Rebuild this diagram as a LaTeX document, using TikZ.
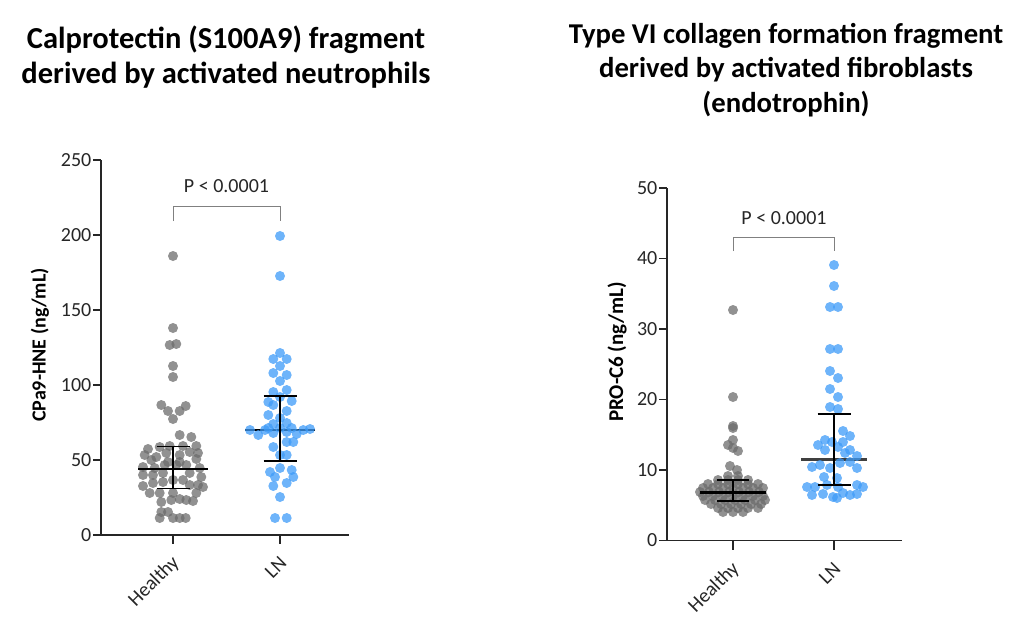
\documentclass[tikz,border=0pt]{standalone}
\usepackage{fontspec}
\setmainfont{Carlito}
\usetikzlibrary{positioning}
\definecolor{healthygray}{RGB}{108,108,108}
\definecolor{lnblue}{RGB}{62,155,248}
\definecolor{axisgray}{RGB}{38,38,38}
\definecolor{bracketgray}{RGB}{128,128,128}

\tikzset{
  hdot/.style={fill=healthygray, fill opacity=0.75},
  lndot/.style={fill=lnblue, fill opacity=0.75},
  axisline/.style={draw=axisgray, line width=1.4pt},
  errbar/.style={draw=black, line width=1.8pt},
  medbar/.style={draw=black, line width=2.6pt},
  bracket/.style={draw=bracketgray, line width=0.9pt},
  ticklabel/.style={font=\fontsize{20}{24}\selectfont, text=axisgray, inner sep=1pt},
  titletext/.style={font=\bfseries\fontsize{30.5}{35}\selectfont, align=center},
  axistitle/.style={font=\bfseries\fontsize{20}{24}\selectfont, rotate=90}
}

\begin{document}
\begin{tikzpicture}[x=1pt, y=-1pt]
  \useasboundingbox (0,0) rectangle (1024,627);

  % left panel: calprotectin
  \node[titletext] (ltitle) at (226,57) {Calprotectin (S100A9) fragment\\derived by activated neutrophils};
  \coordinate (ltop) at (101,160);
  \coordinate (lorig) at (101,535);
  \coordinate (lend) at (349,535);
  \coordinate (lh) at (173,535);
  \coordinate (lln) at (280,535);

  \draw[medbar] (245,430) -- (315,430);
  \foreach \dx/\py in {0/256, 0/328, -3.3/345, 3.3/344, 0/366, 0/377, -11.7/405, 12.7/406,
      -5/411, 6.7/411, 0/419, 6.7/435, 18.3/437, -25/449, -13.3/447, -3.3/446, 10/446,
      23.3/446, -28.3/455, -16.7/457, -6.7/453, 6.7/455, 16.7/452, 25/453, -21.7/460,
      -5/462, 6.7/462, 23.3/459, -30/467, -18.3/468, -8.3/465, 3.3/465, 13.3/465,
      26.7/468, -30/475, -20/475, -10/473, 16.7/473, 28.3/477, -30/486, -20/483,
      -10/482, 0/480, 10/480, 16.7/485, 25/485, 30/487, -23.3/493, -13.3/493, 0/493,
      23.3/493, -11.7/502, -1.7/500, 6.7/499, 13.3/500, 20/501, -11.7/512, -5/512,
      -13.3/518, 0/518, 6.7/518, 12.7/518}
    \fill[hdot] ({173+\dx},\py) circle (5);
  \foreach \dx/\py in {0/236, 0/276, 0/353, -6.7/359, 6.7/359, 0/366, -6.7/373, 6.7/375,
      0/381, -6.7/392, 6.7/390, 0/397, -11.7/402, 11.7/401, -6.7/405, 6.7/411,
      -11.7/415, 0/418, -6.7/424, 6.7/423, -11.7/428, 0/428, 11.7/428, -30/430,
      -21.7/435, -15/430, -6.7/433, 6.7/432, 16.7/434, 23.3/430, 30/429, -6.7/447,
      6.7/442, 13.3/442, 0/455, 6.7/455, -10/472, 0/468, 11.7/470, -5/477, 13.3/477,
      -6.7/486, 6.7/483, 0/497, -5/518, 6.7/518}
    \fill[lndot] ({280+\dx},\py) circle (5);

  \draw[medbar] (138,469) -- (208,469);
  \draw[errbar] (173,446.5) -- (173,488.5);
  \draw[errbar] (156.5,446.5) -- (189.5,446.5);
  \draw[errbar] (156.5,488.5) -- (189.5,488.5);
  \draw[errbar] (280,396) -- (280,461);
  \draw[errbar] (263.5,396) -- (296.5,396);
  \draw[errbar] (263.5,461) -- (296.5,461);

  \draw[axisline] (ltop) -- (lorig) -- (lend);
  \foreach \v in {0,50,...,250}
    \draw[axisline] (101,{535-1.5*\v}) -- (93,{535-1.5*\v}) node[ticklabel, left] (lt\v) {\v};
  \draw[axisline] (lh) -- ++(0,9);
  \draw[axisline] (lln) -- ++(0,9);
  \node[ticklabel, rotate=45, anchor=east] (lhx) at (177,559) {Healthy};
  \node[ticklabel, rotate=45, anchor=east] (llnx) at (284,559) {LN};
  \node[axistitle] (lylab) at (40,345) {CPa9-HNE (ng/mL)};

  \coordinate (lbrA) at (173,221);
  \coordinate (lbrB) at (280,221);
  \draw[bracket] (lbrA) -- ++(0,-15) -| (lbrB);
  \node[ticklabel] (lp) at (226.5,186) {P < 0.0001};

  % right panel: endotrophin
  \node[titletext, font=\bfseries\fontsize{28.7}{34.5}\selectfont] (rtitle) at (786,70) {Type VI collagen formation fragment\\derived by activated fibroblasts\\(endotrophin)};
  \coordinate (rtop) at (667,188);
  \coordinate (rorig) at (667,540.5);
  \coordinate (rend) at (902,540.5);
  \coordinate (rh) at (733,540.5);
  \coordinate (rln) at (834,540.5);

  \draw[medbar, draw=black!75] (801,459.3) -- (867,459.3);
  \foreach \dx/\py in {0/310, 0/397, 0/426, 0/428, 0/440, -5/445, 5/451, 0/448, -3/466, 4/470,
      -5/476, 5/476, -15/480, -5/480, 5/480, 15/480,
      -25/484, -15/484, -5/484, 5/484, 15/484, 25/484,
      -30/488, -20/488, -10/488, 0/488, 10/488, 20/488, 30/488,
      -33/492, -24/492, -14/492, -4/492, 6/492, 16/492, 26/492,
      -30/496, -20/496, -10/496, 0/496, 10/496, 20/496, 30/496,
      -28/500, -18/500, -8/500, 2/500, 12/500, 22/500, 32/500,
      -22/504, -12/504, -2/504, 8/504, 18/504, 28/504,
      -15/508, -5/508, 5/508, 15/508, 25/508, -10/512, 0/512, 10/512}
    \fill[hdot] ({733+\dx},\py) circle (5);
  \foreach \dx/\py in {0/265, 0/286, -4/307, 4/307, -4/349, 4/349, -4/371, 4/378, -4/389,
      4/397, -4/407, 4/409, 9/431, 16/436, -9/440, -2/442, 9/442, -16/445, 4/447,
      16/450, -9/450, 11/453, 23/456, -22/467, -14/465, -4/468, 6/463, 16/462, 23/468,
      -10/477, 3/478, -27/487, -19/487, -7/485, 4/487, 23/485, 29/487,
      -22/495, -11/494, -1/497, 9/493, 16/495, 23/494, 3/498}
    \fill[lndot] ({834+\dx},\py) circle (5);

  \draw[medbar] (700,492.3) -- (766,492.3);
  \draw[errbar] (733,480) -- (733,501);
  \draw[errbar] (717,480) -- (749,480);
  \draw[errbar] (717,501) -- (749,501);
  \draw[errbar] (834,414.3) -- (834,485);
  \draw[errbar] (817.5,414.3) -- (850.5,414.3);
  \draw[errbar] (817.5,485) -- (850.5,485);

  \draw[axisline] (rtop) -- (rorig) -- (rend);
  \foreach \v in {0,10,...,50}
    \draw[axisline] (667,{540.5-7.05*\v}) -- (659,{540.5-7.05*\v}) node[ticklabel, left] (rt\v) {\v};
  \draw[axisline] (rh) -- ++(0,9);
  \draw[axisline] (rln) -- ++(0,9);
  \node[ticklabel, rotate=45, anchor=east] (rhx) at (737,565) {Healthy};
  \node[ticklabel, rotate=45, anchor=east] (rlnx) at (838,565) {LN};
  \node[axistitle, font=\bfseries\fontsize{21}{25}\selectfont] (rylab) at (617,352) {PRO-C6 (ng/mL)};

  \coordinate (rbrA) at (733,251);
  \coordinate (rbrB) at (834,251);
  \draw[bracket] (rbrA) -- ++(0,-14) -| (rbrB);
  \node[ticklabel] (rp) at (784,218) {P < 0.0001};
\end{tikzpicture}
\end{document}
